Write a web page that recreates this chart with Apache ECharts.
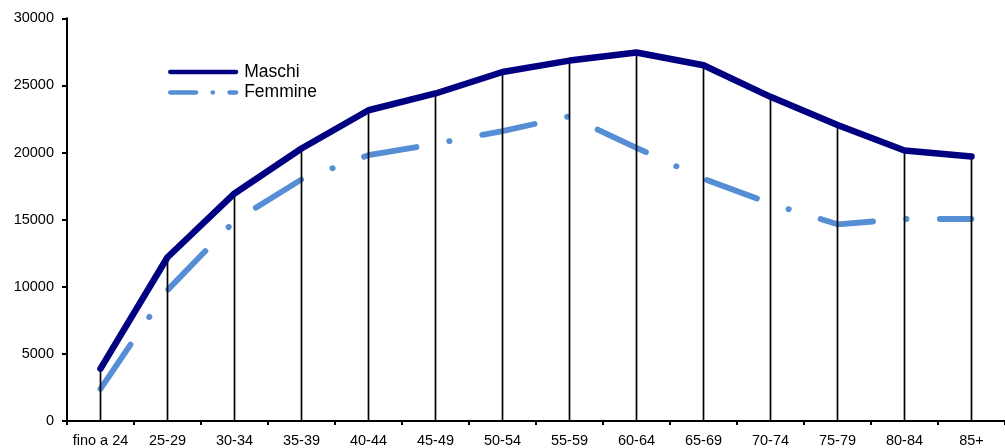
<!DOCTYPE html>
<html>
<head>
<meta charset="utf-8">
<script src="https://cdn.jsdelivr.net/npm/echarts@6/dist/echarts.min.js"></script>
<style>
html,body{margin:0;padding:0;background:#fff;}
#chart{width:1005px;height:448px;}
</style>
</head>
<body>
<div id="chart"></div>
<script>
var categories = ['fino a 24','25-29','30-34','35-39','40-44','45-49','50-54','55-59','60-64','65-69','70-74','75-79','80-84','85+'];
var maschi = [3900,12200,16950,20300,23150,24400,26000,26850,27450,26500,24150,22050,20150,19700];
var femmine = [2400,9750,14900,18000,19800,20650,21600,22700,20350,18050,16200,14650,15050,15050];
var yTicks = {min:0, max:30000, interval:5000};

var FONT = "'Liberation Sans', Arial, sans-serif";
var chart = echarts.init(document.getElementById('chart'), null, {renderer:'canvas'});
chart.setOption({
  animation:false,
  backgroundColor:'#ffffff',
  grid:{left:67, top:18.3, width:945.5, height:403.2, containLabel:false},
  legend:{
    orient:'vertical', left:168, top:63, padding:0,
    itemWidth:66, itemHeight:14, itemGap:2.5,
    textStyle:{fontFamily:FONT, fontSize:17.5, color:'#000', lineHeight:17, padding:[0,0,0,3]},
    itemStyle:{opacity:0},
    lineStyle:{width:4.3, cap:'round'},
    data:[
      {name:'Maschi'},
      {name:'Femmine', lineStyle:{type:[26,16.5,0.3,16.5], width:4.3, cap:'round'}}
    ]
  },
  xAxis:{
    type:'category', data:categories, boundaryGap:true,
    axisLine:{lineStyle:{color:'#000', width:2}},
    axisTick:{show:true, alignWithLabel:false, length:4, lineStyle:{color:'#000', width:2}},
    axisLabel:{fontFamily:FONT, fontSize:14.5, color:'#000', margin:12, interval:0},
    splitLine:{show:false}
  },
  yAxis:{
    type:'value', min:yTicks.min, max:yTicks.max, interval:yTicks.interval,
    axisLine:{show:true, lineStyle:{color:'#000', width:2}},
    axisTick:{show:true, length:5, lineStyle:{color:'#000', width:2}},
    axisLabel:{fontFamily:FONT, fontSize:14.5, color:'#000', margin:13, formatter:function(v){return String(v);}},
    splitLine:{show:false}
  },
  series:[
    {
      name:'Femmine', type:'line', data:femmine, z:2,
      symbol:'none', showSymbol:false, smooth:false,
      lineStyle:{color:'#558ED5', width:5.8, type:[53.4,33.3,0.3,33.3], cap:'round', join:'round'},
      itemStyle:{color:'#558ED5'}
    },
    {
      name:'drop', type:'bar', data:maschi, z:3,
      barWidth:1.7,
      itemStyle:{color:'#000'},
      emphasis:{disabled:true}, legendHoverLink:false
    },
    {
      name:'Maschi', type:'line', data:maschi, z:4,
      symbol:'none', showSymbol:false, smooth:false,
      lineStyle:{color:'#000080', width:6.5, cap:'round', join:'round'},
      itemStyle:{color:'#000080'}
    }
  ]
});
</script>
</body>
</html>
